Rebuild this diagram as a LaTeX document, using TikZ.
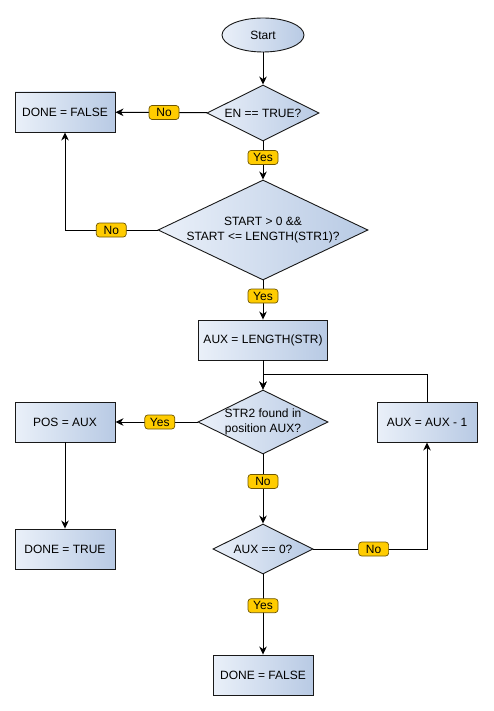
\documentclass[tikz,border=0pt]{standalone}
\usepackage{fontspec}
\setmainfont{Liberation Sans}
\usetikzlibrary{shapes.geometric,arrows.meta}
\definecolor{fillL}{RGB}{234,240,249}
\definecolor{fillR}{RGB}{184,202,228}
\definecolor{lblfill}{RGB}{255,204,0}
\definecolor{lbldraw}{RGB}{110,85,0}
\begin{document}
\begin{tikzpicture}[x=1pt,y=-1pt,
  every node/.style={font=\fontsize{12}{15}\selectfont},
  shapebase/.style={draw=black!90, line width=0.9pt, left color=fillL, right color=fillR, inner sep=0pt},
  proc/.style={shapebase, rectangle, minimum width=100pt, minimum height=40pt},
  dec/.style={shapebase, diamond},
  term/.style={shapebase, ellipse, minimum width=82pt, minimum height=34pt},
  lbl/.style={draw=lbldraw, fill=lblfill, rounded corners=3pt, line width=0.7pt, minimum width=30pt, minimum height=14pt, inner sep=1pt},
  arr/.style={draw=black, line width=1pt, -{Stealth[length=8pt,width=7.5pt,inset=2.5pt]}},
  ln/.style={draw=black, line width=1pt}
]
\useasboundingbox (0,0) rectangle (493,711);

\node[term] (start) at (263,35) {Start};
\node[dec, minimum width=112pt, minimum height=56pt, label={center:EN == TRUE?}] (d1) at (263,113) {};
\node[proc] (done1) at (65,112) {DONE = FALSE};
\node[dec, minimum width=210pt, minimum height=100pt, label={[align=center]center:START > 0 \&\&\\START <= LENGTH(STR1)?}] (d2) at (263,230) {};
\node[proc, minimum width=129pt] (aux) at (263,340) {AUX = LENGTH(STR)};
\node[dec, minimum width=130pt, minimum height=64pt, label={[align=center]center:STR2 found in\\position AUX?}] (d3) at (263,422) {};
\node[proc] (aux1) at (427,422) {AUX = AUX - 1};
\node[proc] (pos) at (65,422) {POS = AUX};
\node[proc] (doneT) at (65,549) {DONE = TRUE};
\node[dec, minimum width=100pt, minimum height=50pt, label={center:AUX == 0?}] (d4) at (263,549) {};
\node[proc] (done2) at (263,675) {DONE = FALSE};
\coordinate (m) at (263,374);

\draw[arr] (start) -- (d1);
\draw[arr] (d1) -- node[lbl, pos=0.47] {No} (done1);
\draw[arr] (d1) -- node[lbl, pos=0.42] {Yes} (d2);
\draw[arr] (d2) -- node[lbl, pos=0.5] {No} (d2 -| done1) -- (done1);
\draw[arr] (d2) -- node[lbl, pos=0.4] {Yes} (aux);
\draw[arr] (aux) -- (d3);
\draw[arr] (aux1) |- (m) -- (d3);
\draw[arr] (d3) -- node[lbl, pos=0.46] {Yes} (pos);
\draw[arr] (pos) -- (doneT);
\draw[arr] (d3) -- node[lbl, pos=0.39] {No} (d4);
\draw[arr] (d4) -- node[lbl, pos=0.53] {No} (d4 -| aux1) -- (aux1);
\draw[arr] (d4) -- node[lbl, pos=0.39] {Yes} (done2);
\end{tikzpicture}
\end{document}
